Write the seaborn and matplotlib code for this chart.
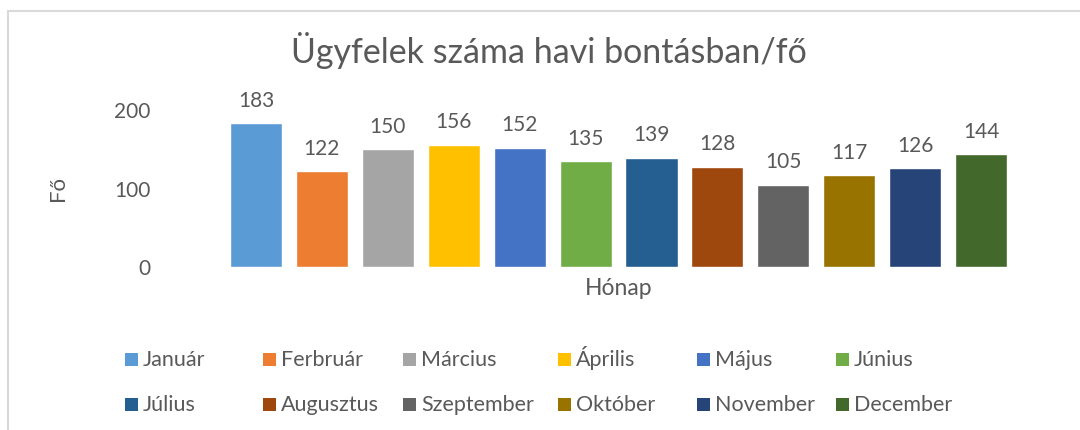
import matplotlib
matplotlib.use("Agg")
import matplotlib.pyplot as plt
import seaborn as sns
import pandas as pd
from matplotlib.patches import Rectangle
from matplotlib.lines import Line2D

# Monthly client counts
months = ["Január", "Ferbruár", "Március", "Április", "Május", "Június",
          "Július", "Augusztus", "Szeptember", "Október", "November", "December"]
clients = [183, 122, 150, 156, 152, 135, 139, 128, 105, 117, 126, 144]
colors = ["#5B9BD5", "#ED7D31", "#A5A5A5", "#FFC000", "#4472C4", "#70AD47",
          "#255E91", "#9E480E", "#636363", "#997300", "#264478", "#43682B"]
yticks = [0, 100, 200]

df = pd.DataFrame({"month": months, "clients": clients})

sns.set_style("white")
plt.rcParams["font.family"] = ["Lato", "DejaVu Sans"]
txt = "#595959"
W, H = 1080, 430

fig = plt.figure(figsize=(10.8, 4.3), dpi=100)
ax = fig.add_axes([0.2065, 0.379, 0.7324, 0.365])

sns.barplot(data=df, x="month", y="clients", hue="month", palette=colors,
            width=0.79, legend=False, ax=ax, saturation=1)

for c in ax.containers:
    ax.bar_label(c, padding=9, fontsize=15, color=txt, clip_on=False)

ax.set_ylim(0, 200)
ax.set_yticks(yticks)
ax.tick_params(axis="y", length=0, pad=52, labelsize=15, labelcolor=txt)
ax.set_xticks([])
ax.set_xlabel("Hónap", fontsize=16.5, color=txt, labelpad=8)
ax.set_ylabel("Fő", fontsize=16, color=txt)
ax.yaxis.set_label_coords(-0.196, 0.5)
sns.despine(ax=ax, left=True, bottom=True)

fig.text(0.508, 0.883, "Ügyfelek száma havi bontásban/fő", ha="center", va="center",
         fontsize=24.5, color=txt)

# legend drawn row-wise like Excel (marker + label per entry)
col_x = [125, 263, 403, 558, 697, 836]
row_bottom = [366, 411]
for k, name in enumerate(months):
    r, j = divmod(k, 6)
    x, yb = col_x[j], row_bottom[r]
    fig.add_artist(Rectangle((x / W, 1 - yb / H), 13 / W, 13 / H,
                             transform=fig.transFigure, facecolor=colors[k], edgecolor="none"))
    fig.text((x + 18) / W, 1 - yb / H, name, ha="left", va="baseline",
             fontsize=15.5, color=txt)

# chart border (top and left only visible)
fig.add_artist(Line2D([8 / W, 1.0], [1 - 11 / H, 1 - 11 / H], color="#D9D9D9", lw=1.5))
fig.add_artist(Line2D([8 / W, 8 / W], [0, 1 - 11 / H], color="#D9D9D9", lw=1.5))

fig.savefig("out.png", dpi=100)
